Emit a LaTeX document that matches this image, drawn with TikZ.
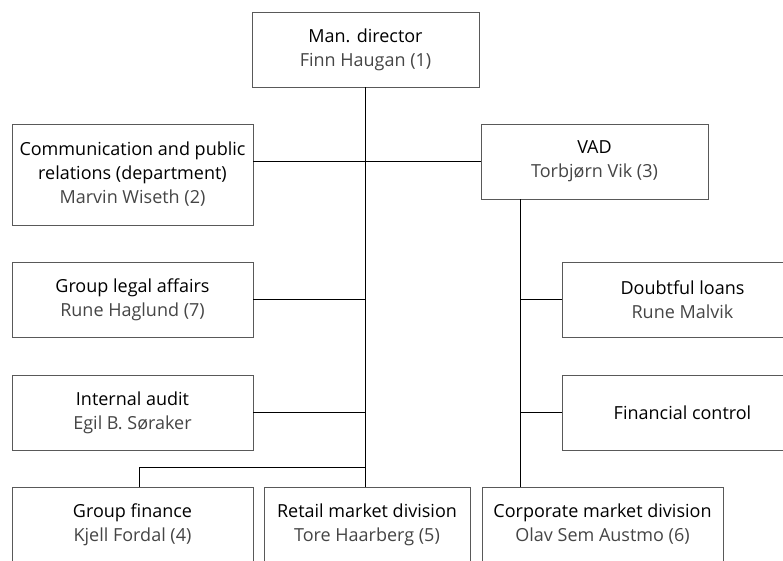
\documentclass[tikz,border=0pt]{standalone}
\usepackage{fontspec}
\setmainfont{Open Sans}
\usepackage{xcolor}
\definecolor{NameGray}{rgb}{0.27,0.27,0.27}
\definecolor{BoxGray}{rgb}{0.35,0.35,0.35}
\usetikzlibrary{calc}
\newcommand{\who}[1]{{\color{NameGray}#1}}

\begin{document}
\begin{tikzpicture}[x=1pt,y=-1pt,
  unit/.style={draw=BoxGray,line width=0.9pt,align=center,inner sep=0pt,
    minimum height=75pt,font=\fontsize{18}{24}\selectfont},
  wide/.style={unit,minimum width=241pt},
  link/.style={line width=0.9pt}]
\clip (0,0) rectangle (783,560);

\node[unit,minimum width=227pt] (md) at (365.5,49.5) {Man. director\\\who{Finn Haugan (1)}};
\node[wide,minimum height=101pt] (comm) at (132.5,174.5) {Communication and public\\relations (department)\\\who{Marvin Wiseth (2)}};
\node[unit,minimum width=227pt] (vad) at (594.5,161.5) {VAD\\\who{Torbjørn Vik (3)}};
\node[wide] (legal) at (132.5,299.5) {Group legal affairs\\\who{Rune Haglund (7)}};
\node[wide] (audit) at (132.5,412.5) {Internal audit\\\who{Egil B. Søraker}};
\node[wide] (loans) at (682.5,299.5) {Doubtful loans\\\who{Rune Malvik}};
\node[wide] (fincon) at (682.5,412.5) {Financial control};
\node[wide] (finance) at (132.5,524.5) {Group finance\\\who{Kjell Fordal (4)}};
\node[unit,minimum width=206pt] (retail) at (367,524.5) {Retail market division\\\who{Tore Haarberg (5)}};
\node[wide] (corp) at (602.5,524.5) {Corporate market division\\\who{Olav Sem Austmo (6)}};

% staff lines off the main trunk
\coordinate (trunk) at ([xshift=-0.5pt]md.south);
\coordinate (vtop) at ([xshift=40pt]vad.south west);
\coordinate (fin) at ([xshift=6.5pt]finance.north);

\draw[link] (trunk) -- (trunk |- retail.north);
\draw[link] (vad.west) -- (vad.west -| comm.east);
\draw[link] (legal.east) -- (legal.east -| trunk);
\draw[link] (audit.east) -- (audit.east -| trunk);
\draw[link] (fin) -- ++(0,-19) -| (trunk |- 0,468);

\draw[link] (vtop) -- (vtop |- corp.north);
\draw[link] (loans.west) -- (loans.west -| vtop);
\draw[link] (fincon.west) -- (fincon.west -| vtop);
\end{tikzpicture}
\end{document}
